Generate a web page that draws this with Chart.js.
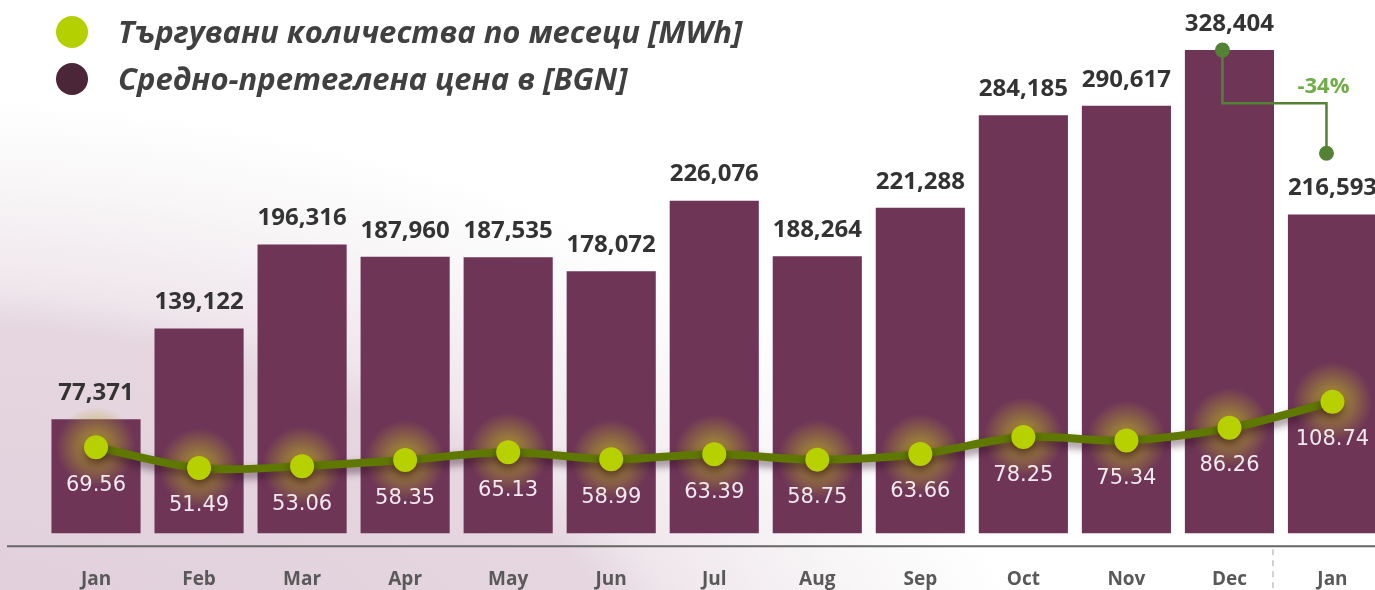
<!DOCTYPE html>
<html>
<head>
<meta charset="utf-8">
<script src="https://cdn.jsdelivr.net/npm/chart.js@4.4.1/dist/chart.umd.min.js"></script>
<style>
html, body { margin: 0; padding: 0; width: 1375px; height: 590px; overflow: hidden; }
body {
    background:
        radial-gradient(ellipse 820px 470px at -100px 755px, #dfcdda 0%, #e5d6df 92%, #efe6ec 100%, #f8f6f7 122%, rgba(255,255,255,0) 140%),
        #ffffff;
}
#wrap { position: relative; width: 1384px; height: 590px; overflow: hidden; }
.legend-item {
    position: absolute; left: 56px; white-space: nowrap;
    font-family: "Open Sans", sans-serif; font-weight: 700; font-style: italic;
    font-size: 31px; color: #404040; line-height: 34px;
}
.legend-item span.dot {
    display: inline-block; width: 32px; height: 32px; border-radius: 50%;
    vertical-align: middle; margin-right: 30px; margin-top: -5px;
}
</style>
</head>
<body>
<div id="wrap">
    <canvas id="chart-volume"></canvas>
    <div id="legend"></div>
</div>
<script>
//---------------------------------------------------------- DATA ----------------------------------------------------------
const months = ['Jan', 'Feb', 'Mar', 'Apr', 'May', 'Jun', 'Jul', 'Aug', 'Sep', 'Oct', 'Nov', 'Dec', 'Jan'];
const volumes = [77371, 139122, 196316, 187960, 187535, 178072, 226076, 188264, 221288, 284185, 290617, 328404, 216593];
const prices = [69.56, 51.49, 53.06, 58.35, 65.13, 58.99, 63.39, 58.75, 63.66, 78.25, 75.34, 86.26, 108.74];

const legendLabels = ['Търгувани количества по месеци [MWh]', 'Средно-претеглена цена в [BGN]'];
const legendColors = ['#b5d000', '#4b2639'];

// change marker Dec -> Jan
const changeFrom = 11;
const changeTo = 12;
const changeText = '-34%';
const changeLevels = [328404, 292300, 258300];

//---------------------------------------------------------- LEGEND ----------------------------------------------------------
var legend = document.getElementById('legend');
legendLabels.forEach(function (txt, i) {
    var d = document.createElement('div');
    d.className = 'legend-item';
    d.style.top = (i === 0 ? 14 : 61) + 'px';
    d.innerHTML = '<span class="dot" style="background:' + legendColors[i] + '"></span>' + txt;
    legend.appendChild(d);
});

//---------------------------------------------------------- PLUGIN ----------------------------------------------------------
const fmt = v => v.toLocaleString('en-US');

const extras = {
    id: 'extras',
    beforeDatasetDraw(chart, args) {
        if (args.index !== 1) return;
        const ctx = chart.ctx;
        const pts = chart.getDatasetMeta(1).data;
        // yellow glow round the points
        pts.forEach(p => {
            const g = ctx.createRadialGradient(p.x, p.y, 0, p.x, p.y, 40);
            g.addColorStop(0, 'rgba(205,190,30,0.85)');
            g.addColorStop(0.5, 'rgba(175,160,45,0.5)');
            g.addColorStop(1, 'rgba(175,160,45,0)');
            ctx.fillStyle = g;
            ctx.beginPath();
            ctx.arc(p.x, p.y, 40, 0, Math.PI * 2);
            ctx.fill();
        });
        ctx.save();
        ctx.shadowColor = 'rgba(35,0,25,0.5)';
        ctx.shadowBlur = 8;
        ctx.shadowOffsetY = 5;
    },
    afterDatasetDraw(chart, args) {
        if (args.index === 1) chart.ctx.restore();
    },
    afterDatasetsDraw(chart) {
        const ctx = chart.ctx;
        ctx.save();
        ctx.textAlign = 'center';
        ctx.textBaseline = 'middle';
        // volume labels above the bars
        ctx.font = 'bold 24px "Open Sans"';
        ctx.fillStyle = '#333333';
        chart.getDatasetMeta(0).data.forEach((bar, i) => {
            ctx.fillText(fmt(volumes[i]), bar.x, bar.y - 26);
        });
        // price labels under the points
        ctx.font = '21px "DejaVu Sans"';
        ctx.fillStyle = '#f1e9ef';
        chart.getDatasetMeta(1).data.forEach((p, i) => {
            ctx.fillText(prices[i].toFixed(2), p.x, p.y + 38);
        });
        ctx.restore();
    },
    afterDraw(chart) {
        const ctx = chart.ctx;
        const xs = chart.scales.x;
        const ys = chart.scales.y;
        const bottom = chart.chartArea.bottom;
        ctx.save();
        // axis line
        ctx.strokeStyle = '#666666';
        ctx.lineWidth = 2;
        ctx.beginPath();
        ctx.moveTo(7, bottom);
        ctx.lineTo(chart.width, bottom);
        ctx.stroke();
        // dashed separator between Dec and Jan
        const sepX = (xs.getPixelForValue(changeFrom) + xs.getPixelForValue(changeTo)) / 2 - 8;
        ctx.strokeStyle = '#a6a6a6';
        ctx.lineWidth = 1;
        ctx.setLineDash([6, 5]);
        ctx.beginPath();
        ctx.moveTo(sepX, bottom + 3);
        ctx.lineTo(sepX, chart.height);
        ctx.stroke();
        ctx.setLineDash([]);
        // change marker
        const x1 = xs.getPixelForValue(changeFrom) - 7;
        const x2 = xs.getPixelForValue(changeTo) - 6;
        const y1 = ys.getPixelForValue(changeLevels[0]);
        const ym = ys.getPixelForValue(changeLevels[1]);
        const y2 = ys.getPixelForValue(changeLevels[2]);
        ctx.strokeStyle = '#548235';
        ctx.fillStyle = '#548235';
        ctx.lineWidth = 2.5;
        ctx.beginPath();
        ctx.moveTo(x1, y1);
        ctx.lineTo(x1, ym);
        ctx.lineTo(x2, ym);
        ctx.lineTo(x2, y2);
        ctx.stroke();
        [[x1, y1], [x2, y2]].forEach(function (c) {
            ctx.beginPath();
            ctx.arc(c[0], c[1], 7.5, 0, Math.PI * 2);
            ctx.fill();
        });
        ctx.font = 'bold 22px "Open Sans"';
        ctx.fillStyle = '#70ad47';
        ctx.textAlign = 'center';
        ctx.textBaseline = 'middle';
        ctx.fillText(changeText, x2 - 3, ym - 16);
        ctx.restore();
    }
};

//---------------------------------------------------------- CHART ----------------------------------------------------------
var canvas = document.getElementById('chart-volume');
canvas.width = 1384;
canvas.height = 613;
var chart_volume = new Chart(canvas.getContext('2d'), {
    type: 'bar',
    data: {
        labels: months,
        datasets: [{
            label: legendLabels[0],
            data: volumes,
            backgroundColor: '#6e3557',
            barPercentage: 0.865,
            categoryPercentage: 1,
            yAxisID: 'y',
            order: 2
        }, {
            type: 'line',
            label: legendLabels[1],
            data: prices,
            borderColor: '#5f7800',
            borderWidth: 8,
            tension: 0.35,
            pointRadius: 12,
            pointHoverRadius: 12,
            pointBackgroundColor: '#b7d000',
            pointBorderWidth: 0,
            yAxisID: 'y2',
            order: 1
        }]
    },
    options: {
        responsive: false,
        animation: false,
        devicePixelRatio: 1,
        layout: { autoPadding: false, padding: { left: 44.5, right: 0, top: 0, bottom: 0 } },
        plugins: {
            legend: { display: false },
            tooltip: { enabled: false }
        },
        scales: {
            x: {
                grid: { display: false, drawTicks: false },
                border: { display: false },
                ticks: {
                    padding: 22,
                    color: '#595959',
                    font: { family: 'Open Sans', weight: 'bold', size: 19 }
                }
            },
            y: { display: false, min: -8857, max: 362470 },
            y2: { display: false, min: -16.16, max: 456.5 }
        }
    },
    plugins: [extras]
});
</script>
</body>
</html>
